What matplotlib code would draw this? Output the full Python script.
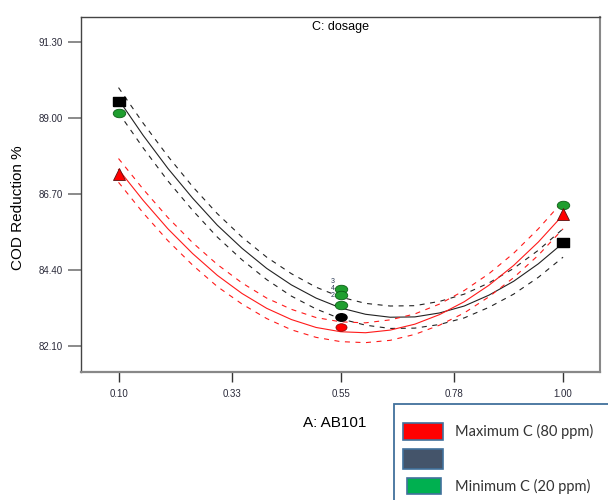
import numpy as np
import matplotlib
matplotlib.use("Agg")
from matplotlib import pyplot as plt
from matplotlib.patches import Rectangle
from matplotlib.path import Path
from matplotlib.transforms import Affine2D

c_red = "#ff1a1a"
c_blk = "#000000"
c_grn = "#1f9e2f"
c_dark = "#44546a"
c_box = "#41719c"

# model curves (A = 0.10 .. 1.00, step 0.05)
a_grid = [0.10, 0.15, 0.20, 0.25, 0.30, 0.35, 0.40, 0.45, 0.50, 0.55,
          0.60, 0.65, 0.70, 0.75, 0.80, 0.85, 0.90, 0.95, 1.00]
blk_fit = [89.57, 88.48, 87.48, 86.58, 85.76, 85.06, 84.45, 83.95, 83.55, 83.25,
           83.06, 82.97, 82.98, 83.10, 83.31, 83.64, 84.06, 84.59, 85.22]
blk_hi = [89.93, 88.85, 87.85, 86.93, 86.11, 85.40, 84.79, 84.29, 83.88, 83.58,
          83.39, 83.31, 83.32, 83.45, 83.67, 84.01, 84.45, 85.00, 85.65]
blk_lo = [89.17, 88.10, 87.10, 86.21, 85.40, 84.71, 84.11, 83.61, 83.22, 82.92,
          82.73, 82.63, 82.64, 82.75, 82.95, 83.27, 83.67, 84.18, 84.79]
red_fit = [87.45, 86.51, 85.65, 84.90, 84.24, 83.69, 83.24, 82.90, 82.66, 82.53,
           82.50, 82.58, 82.76, 83.05, 83.44, 83.94, 84.54, 85.25, 86.07]
red_hi = [87.78, 86.85, 85.99, 85.23, 84.57, 84.01, 83.55, 83.21, 82.96, 82.83,
          82.80, 82.89, 83.07, 83.37, 83.78, 84.29, 84.91, 85.65, 86.49]
red_lo = [87.06, 86.13, 85.29, 84.55, 83.90, 83.37, 82.93, 82.59, 82.36, 82.23,
          82.20, 82.27, 82.45, 82.73, 83.10, 83.59, 84.17, 84.85, 85.65]

# design points
sq_a, sq_y = [0.10, 1.00], [89.53, 85.25]
gr_a, gr_y = [0.10, 0.55, 0.55, 0.55, 1.00], [89.16, 83.83, 83.65, 83.35, 86.38]
tri_a, tri_y = [0.10, 1.00], [87.32, 86.10]
bc_a, bc_y = [0.55], [82.98]
rc_a, rc_y = [0.55], [82.68]
rep_labels = ["3", "4", "2"]
rep_y = [84.04, 83.83, 83.62]

xticks = [0.10, 0.33, 0.55, 0.78, 1.00]
yticks = [82.10, 84.40, 86.70, 89.00, 91.30]

plt.rcParams["font.family"] = ["Liberation Sans", "DejaVu Sans"]

fig = plt.figure(figsize=(6.08, 5.0), dpi=100)
ax = fig.add_axes([0.134, 0.256, 0.853, 0.71])

dash = (0, (4.5, 5))
ax.plot(a_grid, blk_fit, color="#222222", lw=0.8)
ax.plot(a_grid, blk_hi, color="#222222", lw=0.8, ls=dash)
ax.plot(a_grid, blk_lo, color="#222222", lw=0.8, ls=dash)
ax.plot(a_grid, red_fit, color=c_red, lw=0.8)
ax.plot(a_grid, red_hi, color=c_red, lw=0.8, ls=dash)
ax.plot(a_grid, red_lo, color=c_red, lw=0.8, ls=dash)

ell = Path.unit_circle().transformed(Affine2D().scale(1.0, 0.68))
rect = [(-1, -0.72), (1, -0.72), (1, 0.72), (-1, 0.72), (-1, -0.72)]

ax.plot(sq_a, sq_y, ls="none", marker=rect, ms=9, color=c_blk, zorder=5)
ax.plot(gr_a, gr_y, ls="none", marker=ell, ms=9, mfc=c_grn, mec="#0b5e16", mew=0.6, zorder=5)
ax.plot(tri_a, tri_y, ls="none", marker="^", ms=8, mfc="#ff0000", mec="#5a1010", mew=0.6, zorder=5)
ax.plot(bc_a, bc_y, ls="none", marker=ell, ms=8, color=c_blk, zorder=5)
ax.plot(rc_a, rc_y, ls="none", marker=ell, ms=8, mfc="#ff0000", mec="#7a0000", mew=0.5, zorder=5)

for lab, yv in zip(rep_labels, rep_y):
    ax.text(0.537, yv, lab, fontsize=5, color="#2b3a55", ha="right", va="center")

ax.set_xlim(0.025, 1.075)
ax.set_ylim(81.31, 92.07)
ax.set_xticks(xticks)
ax.set_xticklabels(["%.2f" % v for v in xticks])
ax.set_yticks(yticks)
ax.set_yticklabels(["%.2f" % v for v in yticks])
ax.tick_params(axis="x", direction="out", length=7, width=1, color="#333333",
               labelsize=7, labelcolor="#2a2a3a", pad=5)
ax.tick_params(axis="y", direction="out", length=9.5, width=1.2, color="#777777",
               labelsize=7, labelcolor="#2a2a3a", pad=4)
for s in ["left", "top"]:
    ax.spines[s].set_color("#444444")
    ax.spines[s].set_linewidth(1)
ax.spines["right"].set_color("#888888")
ax.spines["right"].set_linewidth(1.5)
ax.spines["bottom"].set_color("#888888")
ax.spines["bottom"].set_linewidth(1.6)

ax.text(0.5, 0.972, "C: dosage", transform=ax.transAxes, ha="center", va="center", fontsize=9)
fig.text(0.03, 0.585, "COD Reduction %", rotation=90, ha="center", va="center", fontsize=11)
fig.text(0.551, 0.154, "A: AB101", ha="center", va="center", fontsize=11)

# legend box drawn by hand, cut off at the figure edge
fig.patches.append(Rectangle((0.648, -0.01), 0.36, 0.202, transform=fig.transFigure,
                             fill=False, ec=c_box, lw=1.3))
fig.patches.append(Rectangle((0.663, 0.12), 0.066, 0.034, transform=fig.transFigure,
                             fc="#ff0000", ec=c_box, lw=1.2))
fig.patches.append(Rectangle((0.663, 0.062), 0.066, 0.04, transform=fig.transFigure,
                             fc=c_dark, ec=c_box, lw=1.2))
fig.patches.append(Rectangle((0.669, 0.012), 0.056, 0.032, transform=fig.transFigure,
                             fc="#00b050", ec=c_box, lw=1.2))
fig.text(0.748, 0.138, "Maximum C (80 ppm)", ha="left", va="center", fontsize=10.5,
         family=["Lato", "DejaVu Sans"], color="#333333")
fig.text(0.748, 0.028, "Minimum C (20 ppm)", ha="left", va="center", fontsize=10.5,
         family=["Lato", "DejaVu Sans"], color="#333333")

plt.savefig("out.png", dpi=100)
